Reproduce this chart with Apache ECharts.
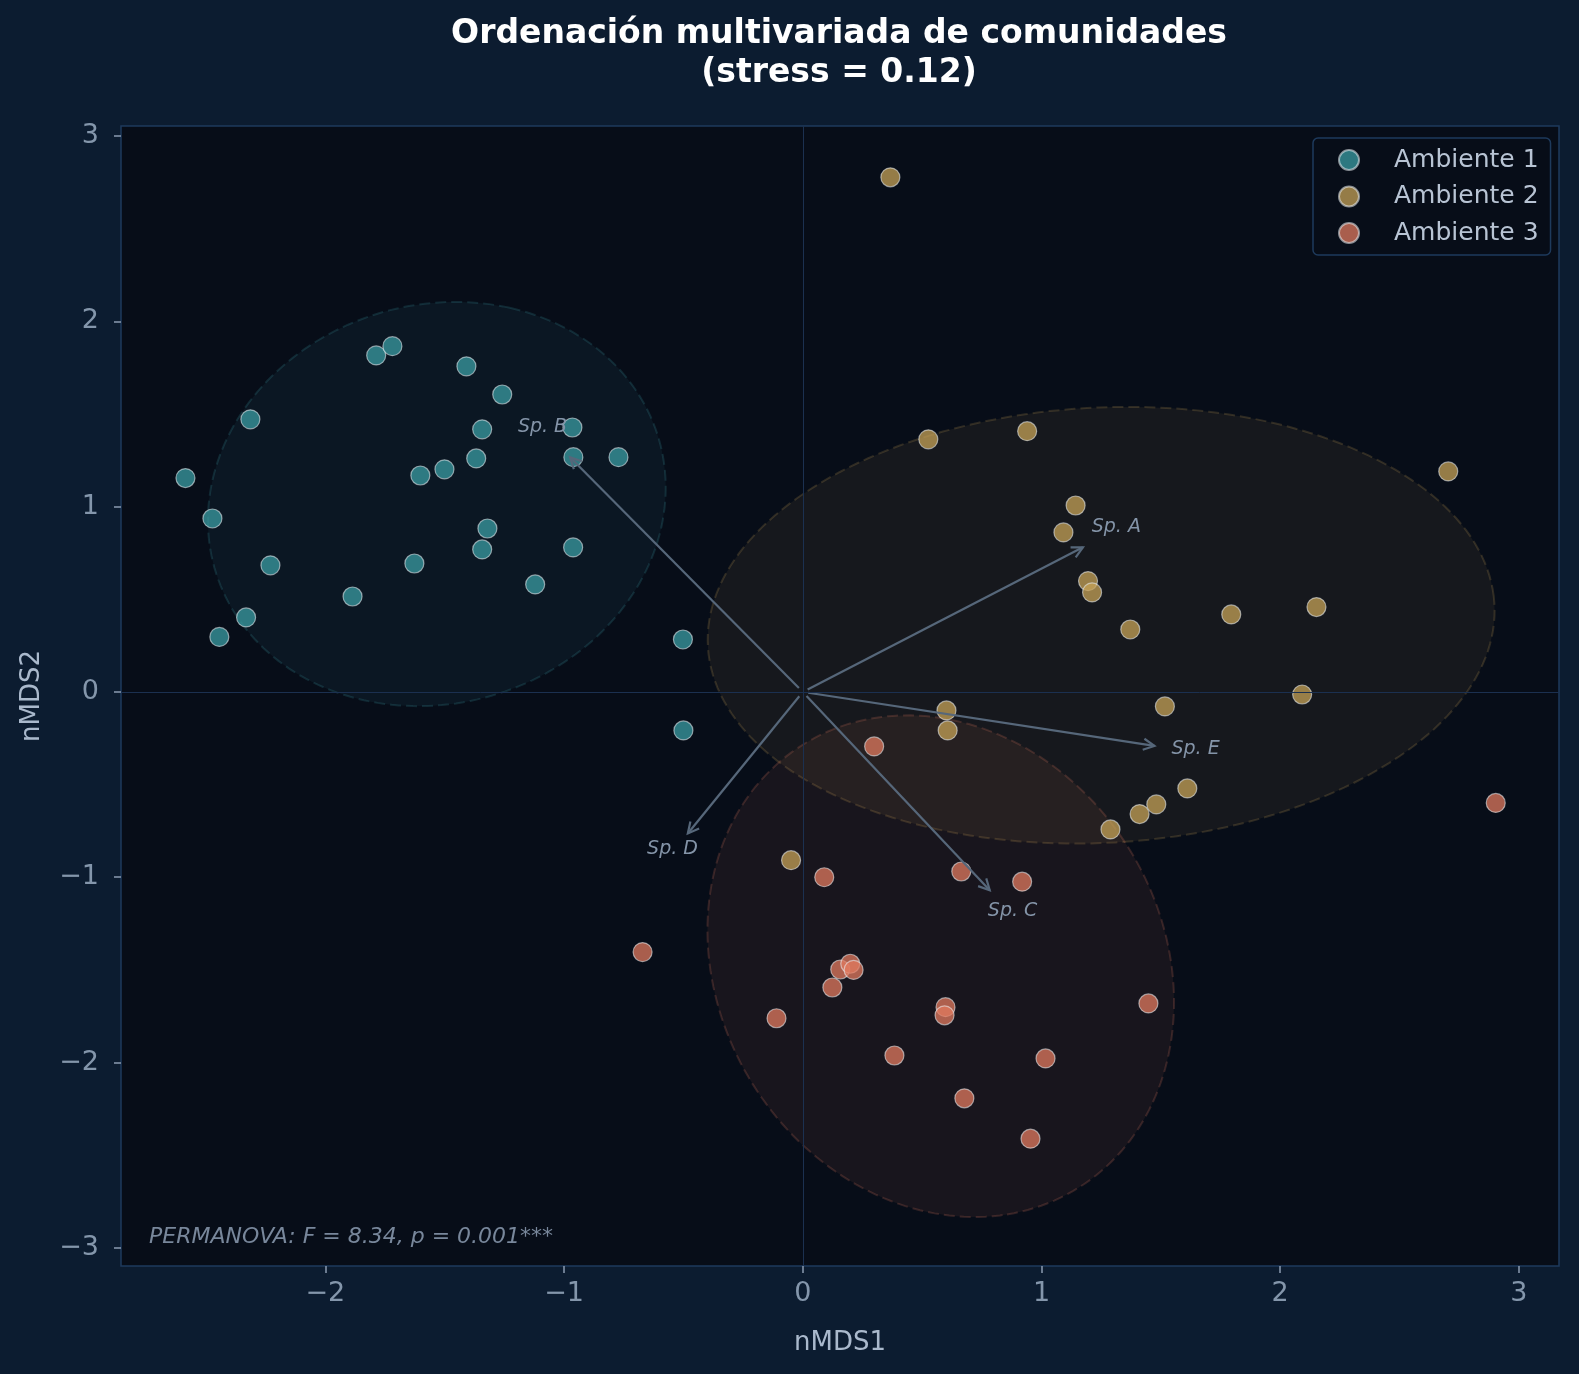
<!DOCTYPE html>
<html><head><meta charset="utf-8">
<script src="https://cdn.jsdelivr.net/npm/echarts@6/dist/echarts.min.js"></script>
<style>html,body{margin:0;padding:0;background:#0c1c30;} #c{width:1579px;height:1374px;}</style>
</head><body><div id="c"></div>
<script>
const groupNames = ['Ambiente 1', 'Ambiente 2', 'Ambiente 3'];
const groupColors = ['#3b9ca3', '#c6a257', '#e07a5f'];

const amb1 = [[-2.586,1.154],[-2.473,0.936],[-2.444,0.297],[-2.332,0.402],[-2.314,1.471],[-2.230,0.683],[-1.886,0.515],[-1.787,1.816],[-1.719,1.866],[-1.627,0.693],[-1.602,1.168],[-1.501,1.201],[-1.409,1.757],[-1.368,1.260],[-1.343,1.417],[-1.343,0.769],[-1.321,0.882],[-1.259,1.605],[-1.121,0.580],[-0.965,1.427],[-0.961,1.267],[-0.962,0.780],[-0.772,1.267],[-0.502,0.283],[-0.500,-0.208]];
const amb2 = [[0.367,2.777],[0.526,1.363],[0.940,1.407],[2.704,1.190],[1.143,1.006],[1.092,0.861],[1.195,0.598],[1.212,0.537],[1.372,0.337],[1.795,0.418],[2.152,0.458],[2.092,-0.014],[1.517,-0.078],[0.602,-0.100],[0.607,-0.208],[1.611,-0.521],[1.481,-0.607],[1.411,-0.659],[1.289,-0.742],[-0.049,-0.908]];
const amb3 = [[0.299,-0.294],[0.090,-1.000],[0.664,-0.969],[0.919,-1.024],[-0.671,-1.404],[2.903,-0.599],[0.157,-1.498],[0.199,-1.467],[0.213,-1.500],[0.124,-1.595],[-0.110,-1.761],[0.598,-1.701],[0.594,-1.745],[1.448,-1.681],[0.384,-1.962],[1.017,-1.978],[0.677,-2.193],[0.954,-2.411]];

// confidence ellipses: [centerX, centerY, semiAxisA, semiAxisB, angleDeg]
const ellipse1 = [-1.533, 1.014, 1.102, 0.946, 73.9];
const ellipse2 = [1.250, 0.360, 1.652, 1.173, 5.5];
const ellipse3 = [0.578, -1.480, 1.368, 0.957, -78.3];

const speciesNames = ['Sp. A', 'Sp. B', 'Sp. C', 'Sp. D', 'Sp. E'];
const speciesLoadings = [[1.194,0.794],[-0.991,1.287],[0.799,-1.092],[-0.496,-0.787],[1.496,-0.296]];

const xTicks = [-2, -1, 0, 1, 2, 3];
const yTicks = [-3, -2, -1, 0, 1, 2, 3];

const FONT = 'DejaVu Sans';
const arrowColor = '#56677a';

function hexToRgba(hex, a) {
  const n = parseInt(hex.slice(1), 16);
  return 'rgba(' + ((n >> 16) & 255) + ',' + ((n >> 8) & 255) + ',' + (n & 255) + ',' + a + ')';
}
function fmt(v) { return v < 0 ? '\u2212' + Math.abs(v) : String(v); }

function ellipseRenderer(color) {
  return function (params, api) {
    const cx = api.value(0), cy = api.value(1), a = api.value(2), b = api.value(3);
    const th = api.value(4) * Math.PI / 180;
    const pts = [];
    const N = 200;
    for (let i = 0; i < N; i++) {
      const t = i / N * 2 * Math.PI;
      const x = cx + a * Math.cos(th) * Math.cos(t) - b * Math.sin(th) * Math.sin(t);
      const y = cy + a * Math.sin(th) * Math.cos(t) + b * Math.cos(th) * Math.sin(t);
      pts.push(api.coord([x, y]));
    }
    return {
      type: 'polygon',
      shape: { points: pts },
      style: { fill: hexToRgba(color, 0.08), stroke: hexToRgba(color, 0.2), lineWidth: 2, lineDash: [11, 5] }
    };
  };
}

function arrowRenderer(params, api) {
  const x = api.value(0), y = api.value(1);
  const o = api.coord([0, 0]), e = api.coord([x, y]);
  const dx = e[0] - o[0], dy = e[1] - o[1];
  const L = Math.hypot(dx, dy), ux = dx / L, uy = dy / L;
  const s = 5.5;
  const p0 = [o[0] + ux * s, o[1] + uy * s];
  const p1 = [e[0] - ux * s, e[1] - uy * s];
  const hl = 11, hw = 5.6;
  const b1 = [p1[0] - ux * hl - uy * hw, p1[1] - uy * hl + ux * hw];
  const b2 = [p1[0] - ux * hl + uy * hw, p1[1] - uy * hl - ux * hw];
  const lp = api.coord([x * 1.1, y * 1.1]);
  return {
    type: 'group',
    children: [
      { type: 'line', shape: { x1: p0[0], y1: p0[1], x2: p1[0], y2: p1[1] }, style: { stroke: arrowColor, lineWidth: 2.2 } },
      { type: 'polyline', shape: { points: [b1, p1, b2] }, style: { stroke: arrowColor, lineWidth: 2.2, fill: 'none' } },
      { type: 'text', x: lp[0], y: lp[1] - 3, style: { text: speciesNames[params.dataIndex], fill: '#8494a8', font: 'italic 19px "' + FONT + '"', align: 'center', verticalAlign: 'middle' } }
    ]
  };
}

const chart = echarts.init(document.getElementById('c'), null, { renderer: 'canvas' });

const ellipses = [ellipse1, ellipse2, ellipse3];
const groups = [amb1, amb2, amb3];

const series = [];
ellipses.forEach((el, i) => {
  const s = {
    type: 'custom',
    name: 'elipse' + (i + 1),
    renderItem: ellipseRenderer(groupColors[i]),
    data: [el],
    encode: { x: 0, y: 1 },
    z: 1,
    silent: true,
    clip: true
  };
  if (i === 0) {
    s.markLine = {
      silent: true, symbol: 'none', label: { show: false },
      lineStyle: { color: '#1b3050', width: 1, type: 'solid' },
      data: [{ xAxis: 0 }, { yAxis: 0 }],
      animation: false
    };
  }
  series.push(s);
});
groups.forEach((g, i) => {
  series.push({
    type: 'scatter',
    name: groupNames[i],
    data: g,
    symbol: 'circle',
    symbolSize: 19,
    z: 3,
    itemStyle: { color: groupColors[i], opacity: 0.75, borderColor: 'rgba(235,240,245,0.75)', borderWidth: 1.2 },
    emphasis: { disabled: true }
  });
});
series.push({
  type: 'custom',
  name: 'especies',
  renderItem: arrowRenderer,
  data: speciesLoadings,
  encode: { x: 0, y: 1 },
  z: 4,
  silent: true
});

chart.setOption({
  animation: false,
  backgroundColor: '#0c1c30',
  title: {
    text: 'Ordenación multivariada de comunidades\n(stress = 0.12)',
    left: 834, top: 10, textAlign: 'center',
    textStyle: { color: '#ffffff', fontSize: 33, fontWeight: 'bold', fontFamily: FONT, lineHeight: 39 }
  },
  grid: {
    left: 121, right: 20, top: 126, bottom: 108,
    show: true, backgroundColor: '#070d18', borderColor: '#1e3a5c', borderWidth: 1.5
  },
  legend: {
    data: groupNames, orient: 'vertical', left: 1313, top: 138,
    padding: [7, 12, 7, 25], itemGap: 6.5, itemWidth: 20, itemHeight: 20, icon: 'circle',
    backgroundColor: '#070d18', borderColor: '#1e3a5c', borderWidth: 1.5, borderRadius: 5,
    textStyle: { color: '#b8c4d4', fontSize: 25, fontFamily: FONT, padding: [0, 0, 0, 30], lineHeight: 30 },
    selectedMode: false
  },
  xAxis: {
    type: 'value', min: -2.856, max: 3.168,
    splitLine: { show: false },
    axisLine: { show: false, onZero: false },
    axisTick: { show: true, customValues: xTicks, length: 7, lineStyle: { color: '#8a9ab0', width: 1.5 } },
    axisLabel: { customValues: xTicks, formatter: fmt, color: '#8496ab', fontSize: 27, fontFamily: FONT, margin: 14 },
    name: 'nMDS1', nameLocation: 'middle', nameGap: 64,
    nameTextStyle: { color: '#aab9cc', fontSize: 26, fontFamily: FONT }
  },
  yAxis: {
    type: 'value', min: -3.098, max: 3.054,
    splitLine: { show: false },
    axisLine: { show: false, onZero: false },
    axisTick: { show: true, customValues: yTicks, length: 7, lineStyle: { color: '#8a9ab0', width: 1.5 } },
    axisLabel: { customValues: yTicks, formatter: fmt, color: '#8496ab', fontSize: 27, fontFamily: FONT, margin: 22 },
    name: 'nMDS2', nameLocation: 'middle', nameGap: 76,
    nameTextStyle: { color: '#aab9cc', fontSize: 26, fontFamily: FONT }
  },
  graphic: [{
    type: 'text', x: 149, y: 1237, z: 10,
    style: { text: 'PERMANOVA: F = 8.34, p = 0.001***', fill: '#78879b', font: 'italic 22px "' + FONT + '"', align: 'left', verticalAlign: 'middle' }
  }],
  series: series
});
</script>
</body></html>
